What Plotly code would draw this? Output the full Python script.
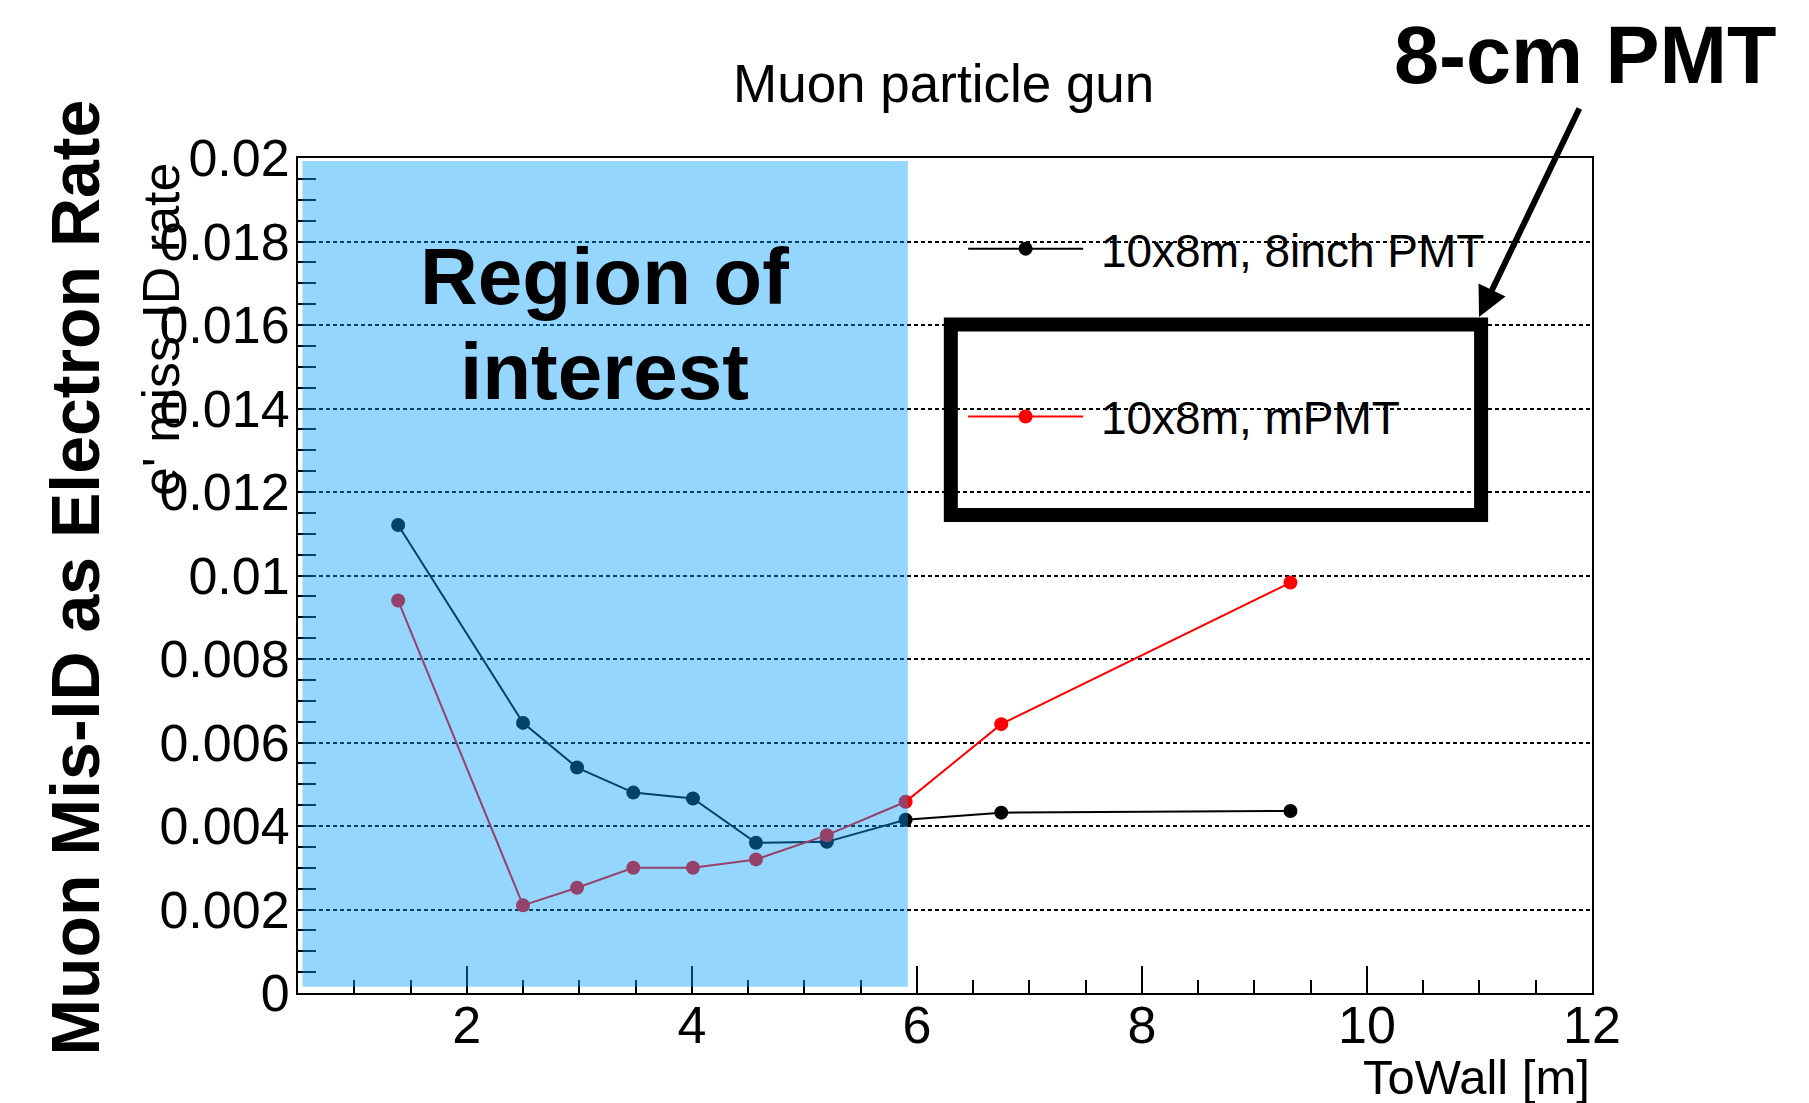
import plotly.graph_objects as go

# ---------------- data ----------------
towall = [1.39, 2.5, 2.98, 3.48, 4.01, 4.57, 5.2, 5.9, 6.75, 9.32]
rate_8inch = [0.01121, 0.00647, 0.0054, 0.0048, 0.00466, 0.0036, 0.00362, 0.00415, 0.00432, 0.00436]
rate_mpmt = [0.0094, 0.0021, 0.00252, 0.003, 0.003, 0.0032, 0.00378, 0.00458, 0.00644, 0.00983]
series_names = ["10x8m, 8inch PMT", "10x8m, mPMT"]
series_colors = ["#000000", "#ff0000"]

y_tickvals = [0, 0.002, 0.004, 0.006, 0.008, 0.01, 0.012, 0.014, 0.016, 0.018, 0.02]
y_ticktext = ["0", "0.002", "0.004", "0.006", "0.008", "0.01", "0.012", "0.014", "0.016", "0.018", "0.02"]
x_tickvals = [2, 4, 6, 8, 10, 12]
x_ticktext = ["2", "4", "6", "8", "10", "12"]
x_range = [0.5, 12]
y_range = [0, 0.02]
roi_range = [0.54, 5.92]

FONT = "Liberation Sans, Arial, Helvetica, sans-serif"
NBSP = "\u00a0"

fig = go.Figure()
for name, ys, col in zip(series_names, [rate_8inch, rate_mpmt], series_colors):
    fig.add_trace(go.Scatter(
        x=towall, y=ys, mode="lines+markers", name=NBSP + name, legendgroup=name,
        line=dict(color=col, width=2), marker=dict(color=col, size=14),
    ))

shapes = [
    # white legend background (covers gridlines)
    dict(type="rect", xref="paper", yref="y", x0=0.496, x1=0.99, y0=0.0112, y1=0.0192,
         fillcolor="white", line=dict(width=0), layer="between"),
    # region of interest overlay
    dict(type="rect", xref="x", yref="y", x0=roi_range[0], x1=roi_range[1],
         y0=0.00015, y1=0.01993, fillcolor="rgba(0,157,252,0.42)",
         line=dict(width=0), layer="above"),
    # thick black highlight box
    dict(type="rect", xref="paper", yref="paper", x0=0.5045, x1=0.9143, y0=0.5725, y1=0.8005,
         line=dict(color="black", width=14), fillcolor="rgba(0,0,0,0)", layer="above"),
]

annotations = [
    dict(text="Muon particle gun", xref="paper", yref="paper", x=0.4992, y=1.0898,
         xanchor="center", yanchor="middle", showarrow=False,
         font=dict(family=FONT, size=53, color="black")),
    dict(text="<b>8-cm PMT</b>", xref="paper", yref="paper", x=0.9946, y=1.1234,
         xanchor="center", yanchor="middle", showarrow=False,
         font=dict(family=FONT, size=81, color="black")),
    dict(text="<b>Region of</b>", xref="paper", yref="paper", x=0.2369, y=0.8575,
         xanchor="center", yanchor="middle", showarrow=False,
         font=dict(family=FONT, size=80, color="black")),
    dict(text="<b>interest</b>", xref="paper", yref="paper", x=0.2369, y=0.7449,
         xanchor="center", yanchor="middle", showarrow=False,
         font=dict(family=FONT, size=80, color="black")),
    dict(text="<b>Muon Mis-ID as Electron Rate</b>", xref="paper", yref="paper", x=-0.172, y=0.498,
         xanchor="center", yanchor="middle", showarrow=False, textangle=-90,
         font=dict(family=FONT, size=68, color="black")),
    dict(text="e' miss-ID rate", xref="paper", yref="paper", x=-0.1058, y=0.9976,
         xanchor="center", yanchor="top", showarrow=False, textangle=-90,
         font=dict(family=FONT, size=52, color="black")),
    dict(text="ToWall [m]", xref="paper", yref="paper", x=1.0, y=-0.101,
         xanchor="right", yanchor="middle", showarrow=False,
         font=dict(family=FONT, size=49, color="black")),
    # arrow
    dict(text="", xref="paper", yref="paper", x=0.9127, y=0.8096,
         ax=101, ay=-210, axref="pixel", ayref="pixel", showarrow=True,
         arrowhead=2, arrowsize=1.0, arrowwidth=6, arrowcolor="black"),
]

fig.update_layout(
    width=1809, height=1103,
    margin=dict(l=298, r=217, t=158, b=110),
    paper_bgcolor="white", plot_bgcolor="white",
    font=dict(family=FONT, color="black"),
    shapes=shapes, annotations=annotations,
    showlegend=True,
    legend=dict(x=0.514, xanchor="left", y=0.935, yanchor="top",
                bgcolor="rgba(0,0,0,0)", font=dict(family=FONT, size=46, color="black"),
                itemwidth=115, tracegroupgap=105),
)

fig.update_xaxes(
    range=x_range, showline=True, linecolor="black", linewidth=2, mirror=True,
    ticks="inside", ticklen=27, tickwidth=1.5, tickcolor="black",
    tickvals=x_tickvals, ticktext=x_ticktext,
    tickfont=dict(family=FONT, size=52, color="black"),
    minor=dict(dtick=0.5, tick0=0, ticks="inside", ticklen=13, tickwidth=1.5,
               tickcolor="black", showgrid=False),
    showgrid=False, zeroline=False, ticklabelstandoff=-14,
)
fig.update_yaxes(
    range=y_range, showline=True, linecolor="black", linewidth=2, mirror=True,
    ticks="inside", ticklen=18, tickwidth=1.5, tickcolor="black",
    tickvals=y_tickvals, ticktext=y_ticktext,
    tickfont=dict(family=FONT, size=52, color="black"),
    minor=dict(dtick=0.0005, tick0=0, ticks="inside", ticklen=18, tickwidth=1.5,
               tickcolor="black", showgrid=False),
    showgrid=True, gridcolor="black", gridwidth=1.5, griddash="4px,3px",
    zeroline=False, ticklabelstandoff=-4,
)

fig.write_html("out.html", config={"displayModeBar": False},
               post_script="document.body.style.margin='0px';")
